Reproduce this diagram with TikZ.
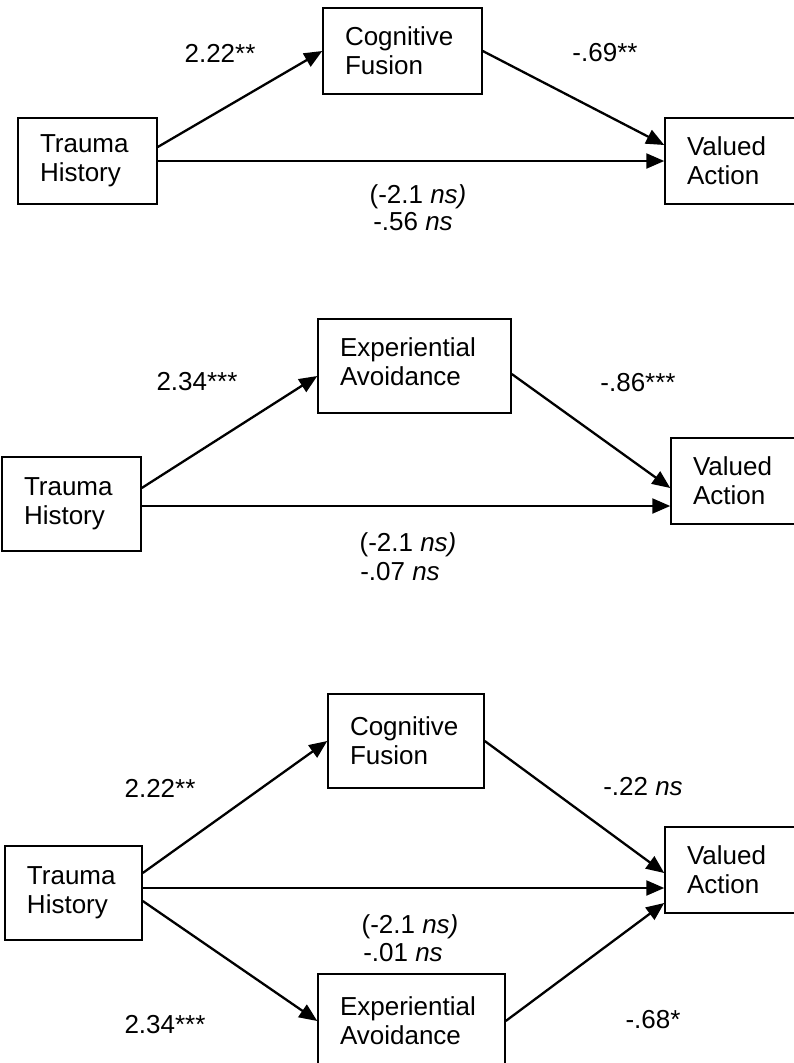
\documentclass[tikz,border=0pt]{standalone}
\usepackage{fontspec}
\setmainfont{Liberation Sans}
\usetikzlibrary{arrows.meta}

\begin{document}
\begin{tikzpicture}[x=1pt,y=-1pt,
        box/.style={draw,line width=1.5pt,inner sep=0pt,align=left,
            font=\fontsize{26}{29}\selectfont},
        effect/.style={-{Triangle[length=18pt,width=15pt]},line width=2.3pt},
        coef/.style={inner sep=0pt,font=\fontsize{26}{29}\selectfont}]
    \path[use as bounding box,clip] (0,0) rectangle (794,1063);

    %%%% Cognitive fusion =============================
    \begin{scope}
        % Boxes
        \node[box,minimum width=139pt,minimum height=86pt,text width=95pt] (th1) at (87.5,161) {Trauma\\History};
        \node[box,minimum width=159pt,minimum height=86pt,text width=115pt] (cf1) at (402.5,51) {Cognitive\\Fusion};
        \node[box,minimum width=139pt,minimum height=86pt,text width=95pt] (va1) at (734.5,161) {Valued\\Action};

        % Arcs
        \draw[effect] ([yshift=14pt]th1.east) -- (cf1.west);
        \draw[effect] (cf1.east) -- ([yshift=16pt]va1.west);
        \draw[effect] (th1.east) -- (va1.west);

        % Coefficients
        \node[coef] (a1) at (220,53) {2.22**};
        \node[coef] (b1) at (605,53) {-.69**};
        \node[coef] (c1) at (418,197) {(-2.1 \textit{ns)}};
        \node[coef] (d1) at (413,222) {-.56 \textit{ns}};
    \end{scope}

    %%%% Experiential avoidance =======================
    \begin{scope}
        % Boxes
        \node[box,minimum width=139pt,minimum height=94pt,text width=95pt] (th2) at (71.5,504) {Trauma\\History};
        \node[box,minimum width=193pt,minimum height=94pt,text width=149pt,text depth=38pt] (ea2) at (414.5,366) {Experiential\\Avoidance};
        \node[box,minimum width=139pt,minimum height=86pt,text width=95pt] (va2) at (740.5,481) {Valued\\Action};

        % Arcs
        \draw[effect] ([yshift=16pt]th2.east) -- ([yshift=-10pt]ea2.west);
        \draw[effect] ([yshift=-8pt]ea2.east) -- ([yshift=-7pt]va2.west);
        \draw[effect] ([yshift=-2pt]th2.east) -- ([yshift=-2pt]th2.east -| va2.west);

        % Coefficients
        \node[coef] (a2) at (197,382) {2.34***};
        \node[coef] (b2) at (638,383) {-.86***};
        \node[coef] (c2) at (408,545) {(-2.1 \textit{ns)}};
        \node[coef] (d2) at (400,572) {-.07 \textit{ns}};
    \end{scope}

    %%%% Both mediators ===============================
    \begin{scope}
        % Boxes
        \node[box,minimum width=137pt,minimum height=94pt,text width=93pt] (th3) at (73.5,893) {Trauma\\History};
        \node[box,minimum width=156pt,minimum height=94pt,text width=112pt] (cf3) at (406,741) {Cognitive\\Fusion};
        \node[box,minimum width=139pt,minimum height=86pt,text width=95pt] (va3) at (734.5,870) {Valued\\Action};
        \node[box,minimum width=187pt,minimum height=94pt,text width=143pt] (ea3) at (411.5,1021) {Experiential\\Avoidance};

        % Arcs
        \draw[effect] ([yshift=20pt]th3.east) -- (cf3.west);
        \draw[effect] (cf3.east) -- ([yshift=-3pt]va3.west);
        \draw[effect] ([yshift=5pt]th3.east) -- ([yshift=5pt]th3.east -| va3.west);
        \draw[effect] ([yshift=-8pt]th3.east) -- (ea3.west);
        \draw[effect] (ea3.east) -- ([yshift=-33pt]va3.west);

        % Coefficients
        \node[coef] (a3) at (160,788) {2.22**};
        \node[coef] (b3) at (643,787) {-.22 \textit{ns}};
        \node[coef] (c3) at (410,927) {(-2.1 \textit{ns)}};
        \node[coef] (d3) at (403,953) {-.01 \textit{ns}};
        \node[coef] (e3) at (165,1025) {2.34***};
        \node[coef] (f3) at (653,1020) {-.68*};
    \end{scope}
\end{tikzpicture}
\end{document}
